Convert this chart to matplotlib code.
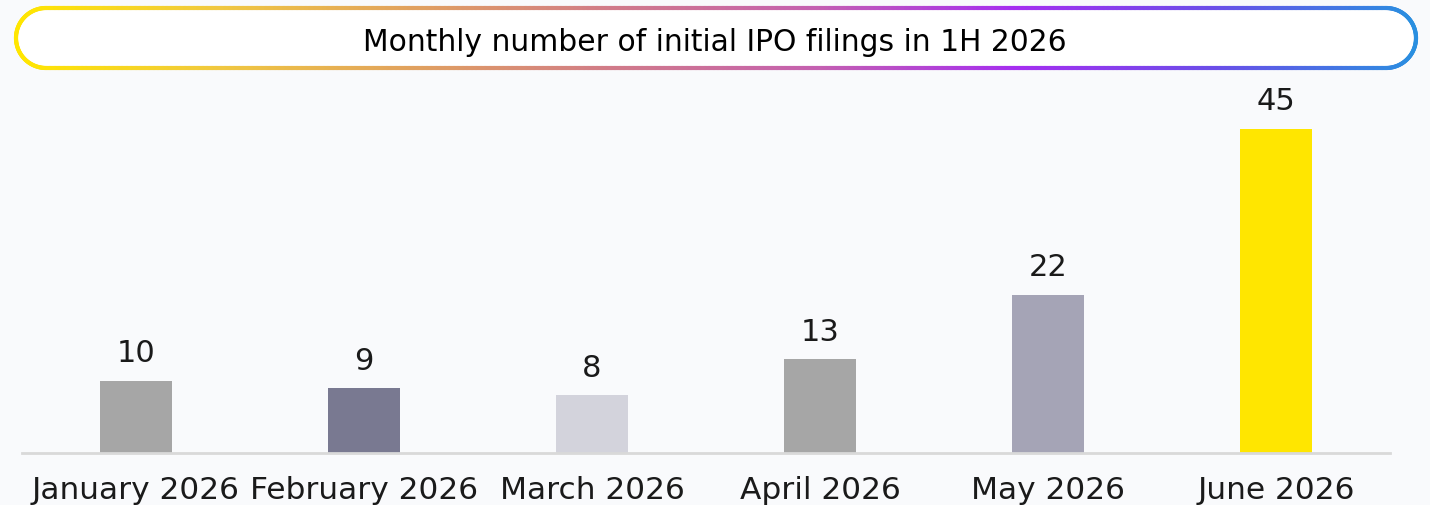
"""Monthly number of initial IPO filings, 1H 2026 - bar chart with gradient title pill."""
import numpy as np
import matplotlib.pyplot as plt
from matplotlib.collections import LineCollection
from matplotlib.colors import LinearSegmentedColormap

months = ["January 2026", "February 2026", "March 2026",
          "April 2026", "May 2026", "June 2026"]
filings = [10, 9, 8, 13, 22, 45]
bar_colors = ["#a6a6a6", "#797991", "#d3d3dc", "#a6a6a6", "#a5a4b6", "#ffe600"]
title = "Monthly number of initial IPO filings in 1H 2026"

plt.rcParams["font.family"] = ["DejaVu Sans"]

W, H = 1430, 506
fig = plt.figure(figsize=(W / 100, H / 100), dpi=100)
fig.patch.set_facecolor("#f9fafc")

# background overlay in pixel coordinates (title pill)
bg = fig.add_axes([0, 0, 1, 1])
bg.set_xlim(0, W)
bg.set_ylim(H, 0)
bg.axis("off")

x0, x1, yt, yb = 16, 1416, 9, 69
r = (yb - yt) / 2
cy = (yt + yb) / 2
t = np.linspace(0, np.pi, 80)
top = np.column_stack([np.linspace(x0 + r, x1 - r, 300), np.full(300, yt)])
right = np.column_stack([x1 - r + r * np.sin(t), cy - r * np.cos(t)])
bottom = np.column_stack([np.linspace(x1 - r, x0 + r, 300), np.full(300, yb)])
left = np.column_stack([x0 + r - r * np.sin(t), cy + r * np.cos(t)])
pts = np.vstack([top, right, bottom, left, top[:1]])
bg.fill(pts[:, 0], pts[:, 1], color="white", zorder=1)

grad = LinearSegmentedColormap.from_list(
    "pill", ["#ffe600", "#f0c840", "#e0a060", "#d07a8a", "#c460b0",
             "#a52ef0", "#6a4ee8", "#2a8fe0"])
segs = np.stack([pts[:-1], pts[1:]], axis=1)
lc = LineCollection(segs, cmap=grad, linewidths=3, capstyle="round", zorder=2)
lc.set_array((segs[:, :, 0].mean(axis=1) - x0) / (x1 - x0))
bg.add_collection(lc)
bg.text(W / 2, cy + 3, title, ha="center", va="center", fontsize=21.4,
        color="black", zorder=3)

# bar chart
ax = fig.add_axes([22 / W, 52 / H, 1368 / W, 360 / H])
ax.set_facecolor("none")
x = np.arange(len(months))
ax.bar(x, filings, width=0.316, color=bar_colors, zorder=2)
for xi, v in zip(x, filings):
    ax.text(xi, v + 1.9, str(v), ha="center", va="bottom", fontsize=22,
            color="#1a1a1a")
ax.set_xlim(-0.5, len(months) - 0.5)
ax.set_ylim(0, 50)
ax.set_xticks(x)
ax.set_xticklabels(months, fontsize=22.5, color="#1a1a1a")
ax.tick_params(axis="x", length=0, pad=16)
ax.set_yticks([])
for side in ["top", "left", "right"]:
    ax.spines[side].set_visible(False)
ax.spines["bottom"].set_color("#d9d9d9")
ax.spines["bottom"].set_linewidth(2)

fig.savefig("out.png", dpi=100, facecolor=fig.get_facecolor())
